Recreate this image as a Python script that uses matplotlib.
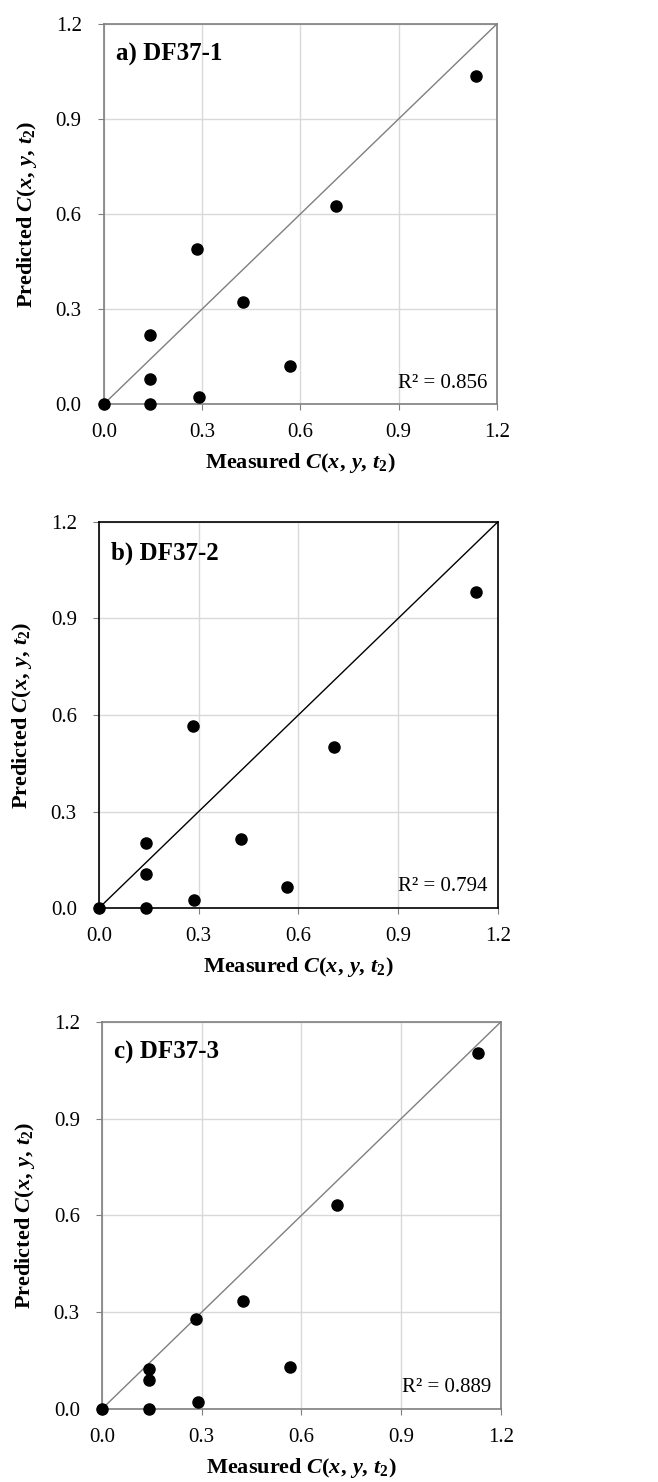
import matplotlib.pyplot as plt

plt.rcParams['font.family'] = ['Liberation Serif', 'DejaVu Serif']
plt.rcParams['mathtext.fontset'] = 'custom'
plt.rcParams['mathtext.rm'] = 'Liberation Serif:bold'
plt.rcParams['mathtext.it'] = 'Liberation Serif:italic:bold'
plt.rcParams['mathtext.bf'] = 'Liberation Serif:bold'

# measured vs predicted values
measured_a = [0.0, 0.142, 0.142, 0.142, 0.284, 0.289, 0.425, 0.567, 0.710, 1.135]
predicted_a = [0.0, 0.219, 0.080, 0.0, 0.491, 0.022, 0.322, 0.121, 0.625, 1.036]

measured_b = [0.0, 0.140, 0.140, 0.140, 0.283, 0.287, 0.426, 0.566, 0.707, 1.134]
predicted_b = [0.0, 0.203, 0.107, 0.0, 0.567, 0.026, 0.213, 0.064, 0.502, 0.982]

measured_c = [0.0, 0.142, 0.142, 0.142, 0.284, 0.288, 0.425, 0.566, 0.707, 1.132]
predicted_c = [0.0, 0.125, 0.091, 0.0, 0.278, 0.022, 0.335, 0.131, 0.631, 1.103]

panel_names = ["a) DF37-1", "b) DF37-2", "c) DF37-3"]
r2_labels = ["R² = 0.856", "R² = 0.794", "R² = 0.889"]
ticks = [0.0, 0.3, 0.6, 0.9, 1.2]
tick_labels = ["0.0", "0.3", "0.6", "0.9", "1.2"]

# axes boxes in figure fractions and frame colours
boxes = [
    [0.158, 0.7274, 0.597, 0.2564],
    [0.1505, 0.3873, 0.606, 0.2605],
    [0.155, 0.0493, 0.606, 0.2611],
]
frame_colors = ["#7f7f7f", "black", "#7f7f7f"]

fig = plt.figure(figsize=(6.58, 14.82), dpi=100)

data = [(measured_a, predicted_a), (measured_b, predicted_b), (measured_c, predicted_c)]
for i, (mx, py) in enumerate(data):
    ax = fig.add_axes(boxes[i])
    ax.set_xlim(0, 1.2)
    ax.set_ylim(0, 1.2)
    ax.set_xticks(ticks)
    ax.set_yticks(ticks)
    ax.set_xticklabels(tick_labels, fontsize=15)
    ax.set_yticklabels(tick_labels, fontsize=15)
    ax.grid(True, color="#d9d9d9", linewidth=1)
    ax.set_axisbelow(True)
    for s in ax.spines.values():
        s.set_color(frame_colors[i])
        s.set_linewidth(1.2)
    ax.tick_params(axis="y", direction="out", length=4, color="#7f7f7f", pad=12)
    ax.tick_params(axis="x", direction="out", length=4, color="#7f7f7f", pad=10)

    ax.plot([0, 1.2], [0, 1.2], color=frame_colors[i], linewidth=1.0, zorder=2)
    ax.plot(mx, py, "o", color="black", markersize=8, zorder=3, clip_on=False)

    ax.text(0.03, 0.92, panel_names[i], transform=ax.transAxes, fontsize=18,
            fontweight="bold", va="center", ha="left")
    ax.text(0.975, 0.055, r2_labels[i], transform=ax.transAxes, fontsize=15,
            va="center", ha="right")

    ax.set_xlabel(r"Measured $C(x,\,y,\,t_2)$", fontsize=16, fontweight="bold", labelpad=6)
    ax.set_ylabel(r"Predicted $C(x,\,y,\,t_2)$", fontsize=16, fontweight="bold", labelpad=12)

fig.savefig("out.png", dpi=100)
